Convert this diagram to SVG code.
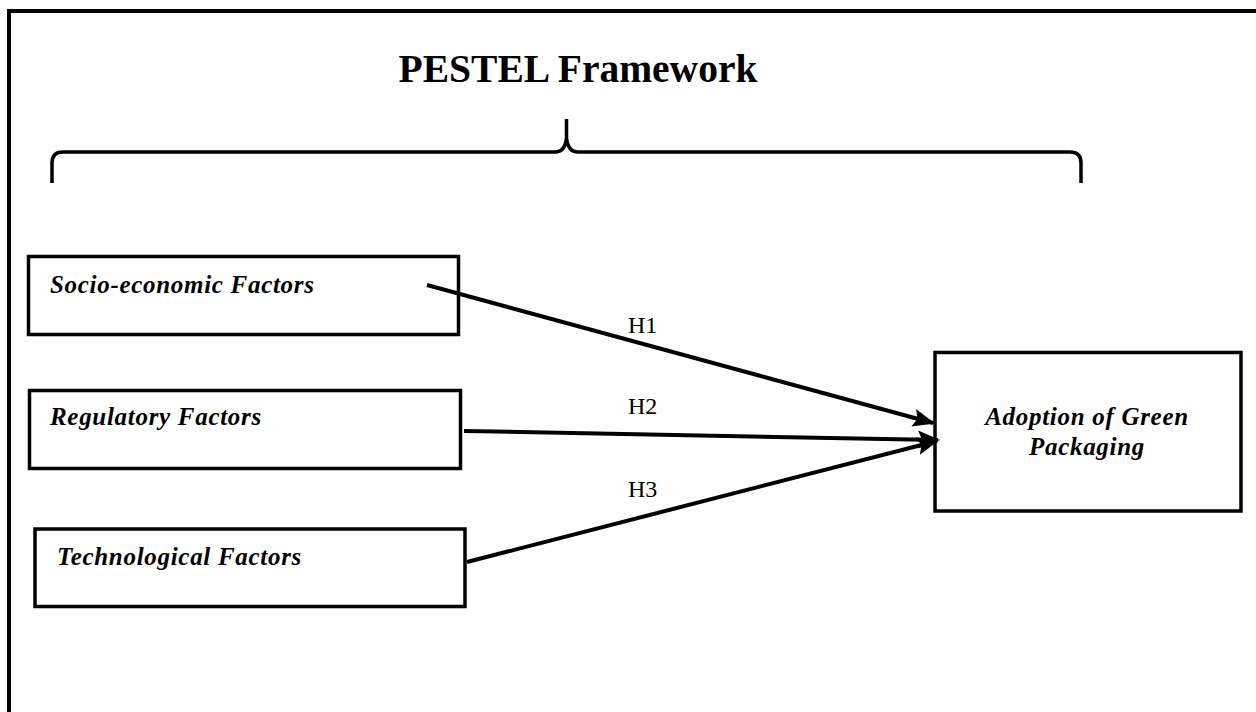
<svg xmlns="http://www.w3.org/2000/svg" width="1256" height="712" viewBox="0 0 1256 712">
<style>
.box{fill:#fff;stroke:#000;stroke-width:3.5}
.lbl{font-family:"Liberation Serif","Times New Roman",serif;font-weight:bold;font-style:italic;font-size:25px;letter-spacing:0.7px;fill:#000}
.h{font-family:"Liberation Serif","Times New Roman",serif;font-size:24px;fill:#000}
.edge{stroke:#000;stroke-width:4;fill:none;marker-end:url(#ah)}
</style>
<defs>
<marker id="ah" markerUnits="userSpaceOnUse" markerWidth="22" markerHeight="20" viewBox="0 0 22 20" refX="20" refY="10" orient="auto">
<path d="M0,1 L22,10 L0,19 L4,10 z" fill="#000"/>
</marker>
</defs>
<rect width="1256" height="712" fill="#fff"/>
<g id="frame" stroke="#000" stroke-width="4" fill="none">
<path d="M9,712 L9,11 L1256,11"/>
</g>
<g id="title">
<text x="578" y="82" text-anchor="middle" font-family="Liberation Serif, Times New Roman, serif" font-weight="bold" font-size="39.5">PESTEL Framework</text>
</g>
<g id="brace" stroke="#000" stroke-width="3.5" fill="none">
<path d="M52,183 L52,163 Q52,152 63,152 L555,152 Q565,152 566.5,138 L566.5,119 M566.5,138 Q568,152 578,152 L1070,152 Q1081,152 1081,163 L1081,183"/>
</g>
<g id="socio">
<rect class="box" x="28.5" y="256.5" width="430" height="78"/>
<text class="lbl" x="50" y="293">Socio-economic Factors</text>
</g>
<g id="regulatory">
<rect class="box" x="29.5" y="390.5" width="431" height="78"/>
<text class="lbl" x="50" y="425">Regulatory Factors</text>
</g>
<g id="technological">
<rect class="box" x="35" y="529" width="430" height="77.5"/>
<text class="lbl" x="57" y="565">Technological Factors</text>
</g>
<g id="adoption">
<rect class="box" x="935" y="352.5" width="306" height="158.5"/>
<text class="lbl" x="1087" y="425" text-anchor="middle">Adoption of Green</text>
<text class="lbl" x="1087" y="455" text-anchor="middle">Packaging</text>
</g>
<g id="connectors">
<line class="edge" x1="427" y1="285" x2="933" y2="423"/>
<line class="edge" x1="464" y1="431" x2="938" y2="440"/>
<line class="edge" x1="467" y1="562" x2="937" y2="441"/>
<text class="h" x="628" y="333">H1</text>
<text class="h" x="628" y="414">H2</text>
<text class="h" x="628" y="497">H3</text>
</g>
</svg>
